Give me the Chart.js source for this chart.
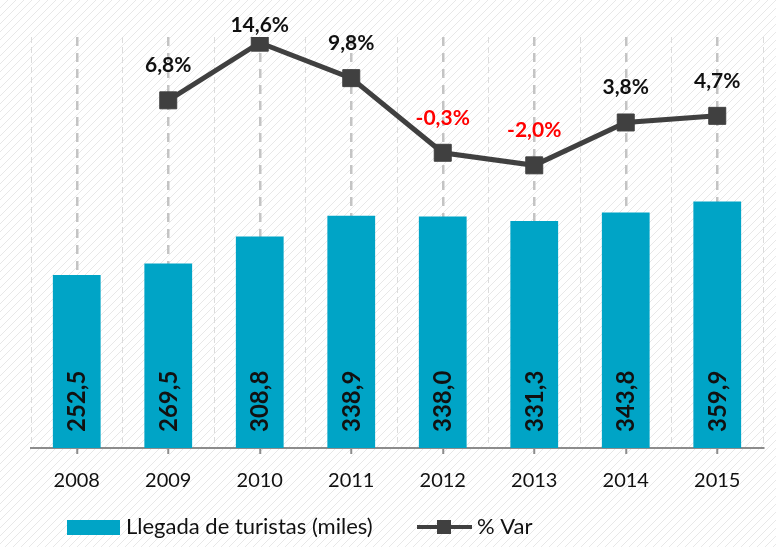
<!DOCTYPE html>
<html>
<head>
<meta charset="utf-8">
<script src="https://cdn.jsdelivr.net/npm/chart.js@4.4.1/dist/chart.umd.min.js"></script>
<style>
html,body{margin:0;padding:0;background:#fff;}
#wrap{width:776px;height:547px;position:relative;}
</style>
</head>
<body>
<div id="wrap"><canvas id="c" width="776" height="547"></canvas></div>
<script>
const categories = ['2008','2009','2010','2011','2012','2013','2014','2015'];
const arrivals = [252.5, 269.5, 308.8, 338.9, 338.0, 331.3, 343.8, 359.9];
const pctVar = [null, 6.8, 14.6, 9.8, -0.3, -2.0, 3.8, 4.7];
const seriesNames = ['Llegada de turistas (miles)', '% Var'];

const BAR_COLOR = '#00A4C6';
const LINE_COLOR = '#404040';
const FONT = 'Lato, "Open Sans", sans-serif';

function fmt(v, dec) { return v.toFixed(dec).replace('.', ','); }

const bgPlugin = {
  id: 'bg',
  beforeDraw(chart) {
    const ctx = chart.ctx;
    const p = document.createElement('canvas');
    p.width = 8; p.height = 8;
    const pc = p.getContext('2d');
    pc.fillStyle = '#ffffff';
    pc.fillRect(0, 0, 8, 8);
    pc.strokeStyle = '#e8e8e8';
    pc.lineWidth = 1;
    pc.beginPath();
    pc.moveTo(0, 8); pc.lineTo(8, 0);
    pc.moveTo(-1, 1); pc.lineTo(1, -1);
    pc.moveTo(7, 9); pc.lineTo(9, 7);
    pc.stroke();
    ctx.save();
    ctx.fillStyle = ctx.createPattern(p, 'repeat');
    ctx.fillRect(0, 0, chart.width, chart.height);
    ctx.restore();
  }
};

const labelPlugin = {
  id: 'labels',
  afterDatasetsDraw(chart) {
    const ctx = chart.ctx;
    const barMeta = chart.getDatasetMeta(0);
    ctx.save();
    ctx.font = 'bold 24px ' + FONT;
    ctx.fillStyle = '#111111';
    ctx.textAlign = 'left';
    ctx.textBaseline = 'middle';
    barMeta.data.forEach((el, i) => {
      ctx.save();
      ctx.translate(el.x + 1, el.base - 16);
      ctx.rotate(-Math.PI / 2);
      ctx.fillText(fmt(arrivals[i], 1), 0, 0);
      ctx.restore();
    });
    ctx.restore();
    const lineMeta = chart.getDatasetMeta(1);
    ctx.save();
    ctx.font = 'bold 21px ' + FONT;
    ctx.textAlign = 'center';
    ctx.textBaseline = 'alphabetic';
    lineMeta.data.forEach((el, i) => {
      const v = pctVar[i];
      if (v === null || v === undefined) return;
      let y = el.y - 28;
      if (y < 32) y = 32;
      ctx.fillStyle = v < 0 ? '#FF0000' : '#111111';
      ctx.fillText(fmt(v, 1) + '%', el.x, y);
    });
    ctx.restore();
  },
  afterDraw(chart) {
    const ctx = chart.ctx;
    ctx.save();
    const ly = 527;
    ctx.fillStyle = BAR_COLOR;
    ctx.fillRect(67, 520, 53, 15);
    ctx.font = '22px ' + FONT;
    ctx.fillStyle = '#111111';
    ctx.textBaseline = 'middle';
    ctx.textAlign = 'left';
    ctx.fillText(seriesNames[0], 126, ly);
    ctx.strokeStyle = LINE_COLOR;
    ctx.lineWidth = 4;
    ctx.beginPath();
    ctx.moveTo(417, ly); ctx.lineTo(472, ly);
    ctx.stroke();
    ctx.fillStyle = LINE_COLOR;
    ctx.fillRect(437, ly - 7, 14, 14);
    ctx.fillStyle = '#111111';
    ctx.fillText(seriesNames[1], 477, ly);
    ctx.restore();
  }
};

new Chart(document.getElementById('c'), {
  type: 'bar',
  data: {
    labels: categories,
    datasets: [
      {
        type: 'bar',
        label: seriesNames[0],
        data: arrivals,
        backgroundColor: BAR_COLOR,
        borderWidth: 0,
        xAxisID: 'x',
        yAxisID: 'y',
        categoryPercentage: 1,
        barPercentage: 0.522,
        order: 1
      },
      {
        type: 'line',
        label: seriesNames[1],
        data: pctVar,
        borderColor: LINE_COLOR,
        backgroundColor: LINE_COLOR,
        borderWidth: 5,
        pointStyle: 'rect',
        pointRadius: 12,
        pointBorderWidth: 1,
        pointBackgroundColor: LINE_COLOR,
        pointBorderColor: LINE_COLOR,
        tension: 0,
        spanGaps: false,
        xAxisID: 'x',
        yAxisID: 'y2',
        order: 0
      }
    ]
  },
  options: {
    responsive: false,
    animation: false,
    devicePixelRatio: 1,
    layout: { padding: { left: 31, right: 9, top: 37, bottom: 39 } },
    plugins: {
      legend: { display: false },
      tooltip: { enabled: false }
    },
    scales: {
      x: {
        position: 'bottom',
        offset: true,
        grid: {
          offset: false,
          color: '#c4c4c4',
          lineWidth: 2.5,
          drawOnChartArea: true,
          drawTicks: true,
          tickLength: 6,
          tickColor: '#8c8c8c',
          tickWidth: 2,
          tickBorderDash: []
        },
        border: { display: true, color: '#8c8c8c', width: 2, dash: [9, 7] },
        ticks: {
          padding: 15,
          color: '#111111',
          font: { family: FONT, size: 20 },
          maxRotation: 0
        }
      },
      x2: {
        position: 'top',
        offset: true,
        grid: {
          offset: true,
          color: '#dcdcdc',
          lineWidth: 1,
          drawTicks: false,
          tickLength: 0
        },
        border: { display: false, dash: [6, 4] },
        ticks: { display: false }
      },
      y: {
        display: false,
        min: 0,
        max: 600
      },
      y2: {
        display: false,
        min: -40.26,
        max: 15.37
      }
    }
  },
  plugins: [bgPlugin, labelPlugin]
});
</script>
</body>
</html>
